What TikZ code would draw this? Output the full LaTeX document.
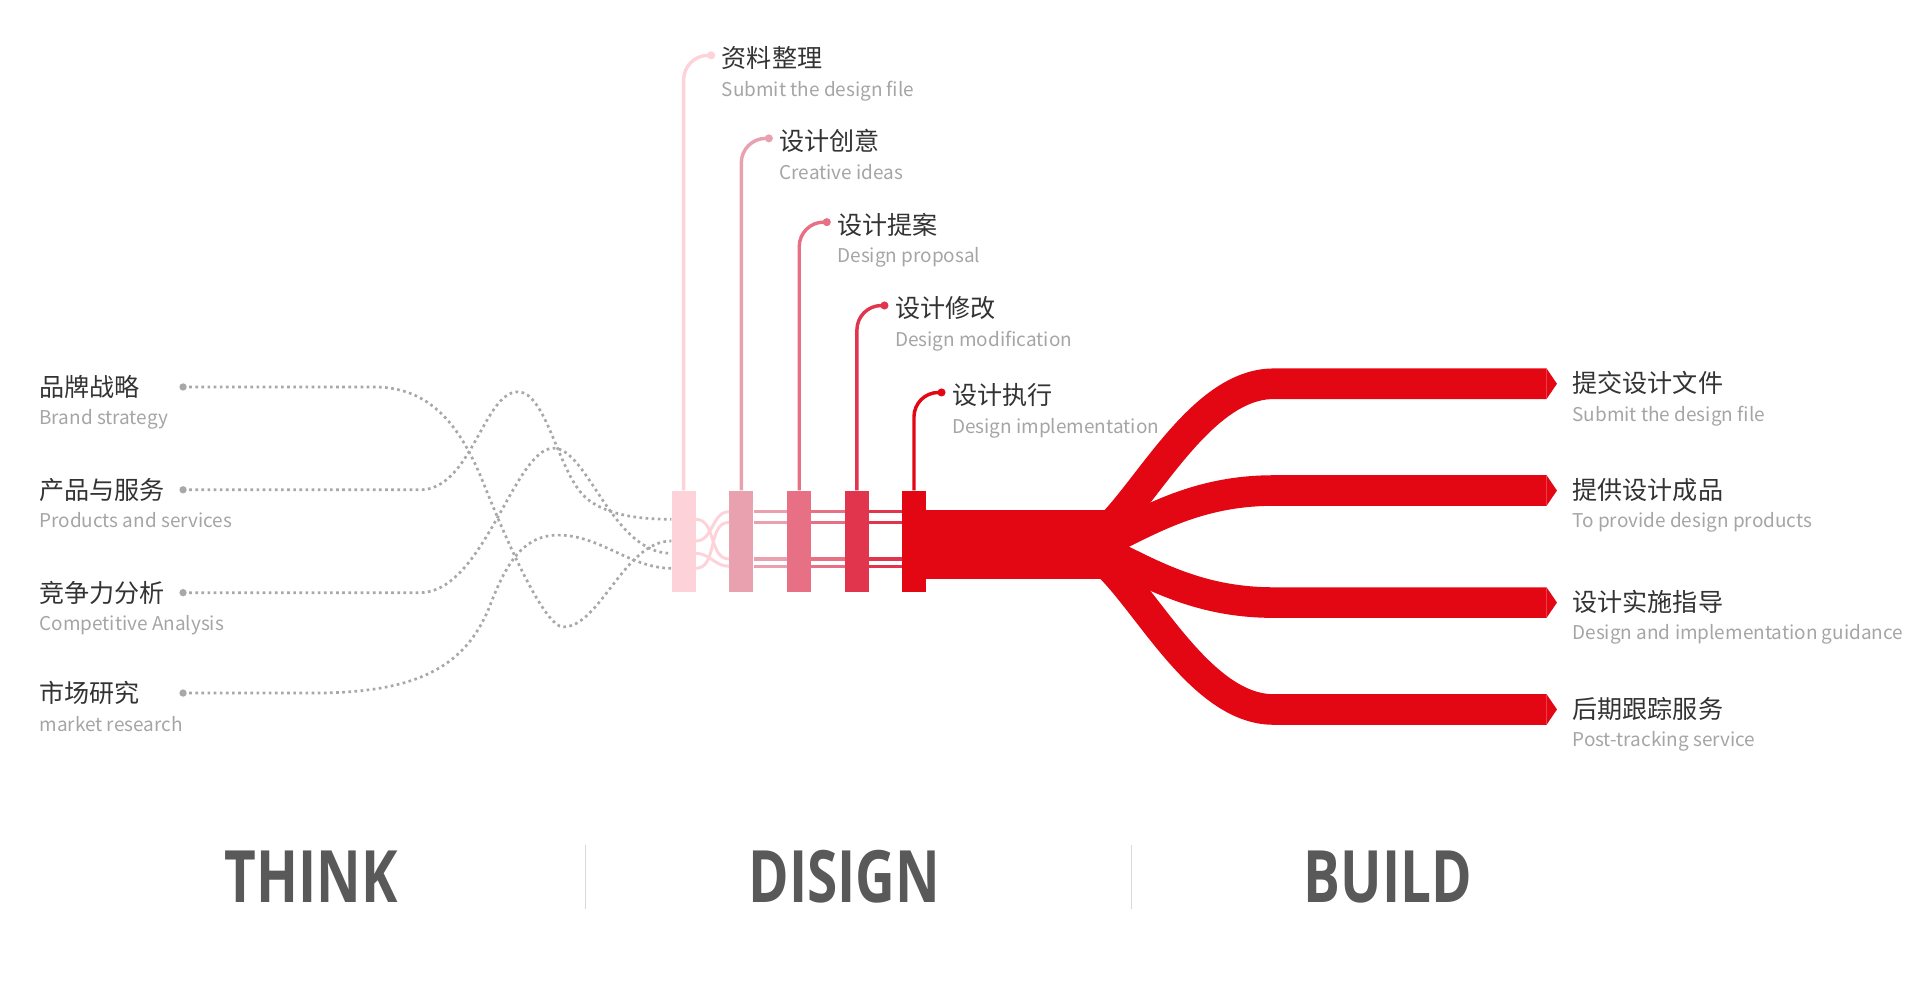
\documentclass[tikz,border=0pt]{standalone}
\usepackage{fontspec}
\usepackage{graphicx}
\setmainfont{Noto Sans CJK SC}
\newfontfamily\bigfont{Open Sans}

\definecolor{barA}{HTML}{FDD3D9}
\definecolor{barB}{HTML}{E9A1AF}
\definecolor{barC}{HTML}{E77084}
\definecolor{barD}{HTML}{E1344D}
\definecolor{barE}{HTML}{E30613}
\definecolor{dotgray}{HTML}{A8A8A8}
\definecolor{txtdark}{HTML}{333333}
\definecolor{txtgray}{HTML}{A5A5A5}
\definecolor{bigtxt}{HTML}{595959}
\definecolor{sepgray}{HTML}{D9D9D9}

\begin{document}
\begin{tikzpicture}[x=1pt,y=-1pt,
  cn/.style={anchor=base west,inner sep=0pt,text=txtdark,font=\fontsize{20.5}{24}\selectfont},
  en/.style={anchor=base west,inner sep=0pt,text=txtgray,font=\fontsize{15.5}{18}\selectfont},
  dotline/.style={draw=dotgray,line width=2.2pt,dash pattern=on 2.2pt off 2.8pt},
  bar/.style={fill=#1,minimum width=19.6pt,minimum height=82.5pt,inner sep=0pt},
  stem/.style={draw=#1,line width=2.8pt,rounded corners=20pt},
  branch/.style={draw=barE,line width=25pt},
  word/.style={text=bigtxt,inner sep=0pt,font=\bigfont\bfseries\fontsize{59}{60}\selectfont}]
\useasboundingbox (0,0) rectangle (1568,817);

% THINK: the four inputs
\foreach \n/\y/\cn/\en in {1/316/品牌战略/Brand strategy,
    2/400/产品与服务/Products and services,
    3/484/竞争力分析/Competitive Analysis,
    4/566/市场研究/market research}{
  \coordinate (l\n) at (149.5,\y);
  \fill[dotgray] (l\n) circle[radius=3pt];
  \node[cn] (lc\n) at (32,\y+7.8) {\cn};
  \node[en] (le\n) at (32,\y+31) {\en};
}

% DESIGN: the five bars with their stems
\foreach \i/\x/\y/\c/\cn/\en in {1/558.3/45.2/barA/资料整理/Submit the design file,
    2/605.4/113/barB/设计创意/Creative ideas,
    3/652.7/181.4/barC/设计提案/Design proposal,
    4/699.8/249.5/barD/设计修改/Design modification,
    5/746.4/320.5/barE/设计执行/Design implementation}{
  \node[bar=\c] (b\i) at (\x,442) {};
  \coordinate (d\i) at (\x+22.5,\y);
  \draw[stem=\c] (b\i.north) |- (d\i);
  \fill[\c] (d\i) circle[radius=3.3pt];
  \node[cn] (dc\i) at (\x+31,\y+10) {\cn};
  \node[en] (de\i) at (\x+31,\y+33.3) {\en};
}

\coordinate (in1) at (b1.west |- 0,424.1);
\coordinate (in2) at (b1.west |- 0,441.8);
\coordinate (in3) at (b1.west |- 0,451.9);
\coordinate (in4) at (b1.west |- 0,464.1);
\coordinate (o1) at (b2.west |- 0,417.9);
\coordinate (o2) at (b2.west |- 0,426.6);
\coordinate (o3) at (b2.west |- 0,456.5);
\coordinate (o4) at (b2.west |- 0,462.5);

\draw[dotline] (l1) -- (305,316) .. controls (350,316) and (375,345) .. (395,395)
  .. controls (415,445) and (445,512) .. (460,512)
  .. controls (490,512) and (510,441.8) .. (in2);
\draw[dotline] (l2) -- (343,400) .. controls (385,400) and (395,320) .. (423,320)
  .. controls (445,320) and (455,380) .. (475,403)
  .. controls (490,420) and (520,424.1) .. (in1);
\draw[dotline] (l3) -- (343,484) .. controls (395,484) and (420,366) .. (452,366)
  .. controls (480,366) and (500,451.9) .. (in3);
\draw[dotline] (l4) -- (255,566) .. controls (340,566) and (380,545) .. (400,495)
  .. controls (415,455) and (430,437) .. (456,437)
  .. controls (490,437) and (515,464.1) .. (in4);

% flows crossing between the first two bars
\foreach \a/\b in {in2/o1,in1/o3,in4/o2,in3/o4}
  \draw[barA,line width=2.4pt] (b1.east |- \a) to[out=0,in=180] (\b);

\foreach \i/\j/\c in {2/3/barB,3/4/barC,4/5/barD}
  \foreach \o in {o1,o2,o3,o4}
    \draw[\c,line width=2.6pt] (b\i.east |- \o) -- (b\j.west |- \o);

% BUILD: the band and its four branches
\fill[barE] (b5.east |- 0,416.5) rectangle (903,472.5);
\draw[branch] (900,436) .. controls (935,407) and (980,313.4) .. (1040,313.4) -- (1263,313.4) coordinate (r1);
\draw[branch] (895,446) .. controls (935,427) and (975,400.6) .. (1040,400.6) -- (1263,400.6) coordinate (r2);
\draw[branch] (895,447) .. controls (935,466) and (975,492.1) .. (1040,492.1) -- (1263,492.1) coordinate (r3);
\draw[branch] (900,457) .. controls (935,486) and (980,579.4) .. (1040,579.4) -- (1263,579.4) coordinate (r4);
\foreach \n in {1,...,4}
  \fill[barE] (r\n) ++(0,-12.5) -- ++(8.5,12.5) -- ++(-8.5,12.5) -- cycle;

\foreach \n/\cn/\en in {1/提交设计文件/Submit the design file,
    2/提供设计成品/To provide design products,
    3/设计实施指导/Design and implementation guidance,
    4/后期跟踪服务/Post-tracking service}{
  \node[cn] (rc\n) at ([xshift=21pt]r\n) [yshift=-7pt] {\cn};
  \node[en] (re\n) at ([xshift=21pt,yshift=-30.5pt]r\n) {\en};
}

% stage names
\node[word] (think) at (254,716) {\scalebox{0.76}[1]{THINK}};
\node[word] (design) at (689.5,716) {\scalebox{0.76}[1]{DISIGN}};
\node[word] (build) at (1133.5,716) {\scalebox{0.76}[1]{BUILD}};
\draw[sepgray,line width=1pt] (478,690) -- (478,742);
\draw[sepgray,line width=1pt] (924,690) -- (924,742);
\end{tikzpicture}
\end{document}
